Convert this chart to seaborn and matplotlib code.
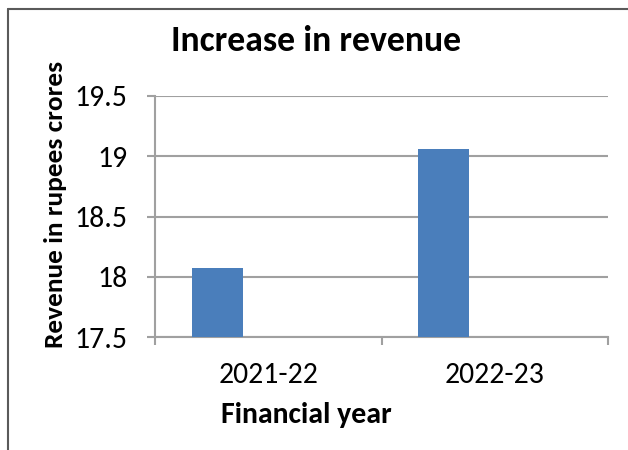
import matplotlib
matplotlib.use("Agg")
import matplotlib.pyplot as plt
from matplotlib import font_manager
from matplotlib.lines import Line2D
import seaborn as sns
import pandas as pd
import numpy as np

# ---- data ----
years = ["2021-22", "2022-23"]
revenue = [18.07, 19.06]
series_order = ["Revenue", "Series2", "Series3"]  # Excel-style empty extra series slots
y_ticks = [17.5, 18, 18.5, 19, 19.5]
y_tick_labels = ["17.5", "18", "18.5", "19", "19.5"]
title = "Increase in revenue"
xlabel = "Financial year"
ylabel = "Revenue in rupees crores"

df = pd.DataFrame({"year": years, "series": ["Revenue"] * len(years), "value": revenue})

sns.set_theme(style="white")
names = {f.name for f in font_manager.fontManager.ttflist}
fam = "Carlito" if "Carlito" in names else ("Lato" if "Lato" in names else "DejaVu Sans")
plt.rcParams["font.family"] = [fam, "DejaVu Sans"]

W, H = 628, 450
fig = plt.figure(figsize=(W / 100, H / 100), dpi=100)
fig.patch.set_facecolor("white")

ax_l, ax_r, ax_t, ax_b = 155, 608, 96, 337
ax = fig.add_axes([ax_l / W, 1 - ax_b / H, (ax_r - ax_l) / W, (ax_b - ax_t) / H])

grid_c = "#a0a0a0"
lw = 1.5
sns.barplot(data=df, x="year", y="value", hue="series", hue_order=series_order,
            order=years, palette=["#4a7ebb", "#c0504d", "#9bbb59"], width=0.675,
            dodge=True, legend=False, ax=ax, saturation=1, edgecolor="none", zorder=3)

ax.set_ylim(17.5, 19.5)
ax.set_xlim(-0.5, 1.5)
ax.set_yticks(y_ticks)
ax.set_yticklabels(y_tick_labels)
ax.set_xticks([0, 1])
ax.set_xticklabels(years)
ax.set_xticks([-0.5, 0.5, 1.5], minor=True)
ax.yaxis.grid(True, color=grid_c, linewidth=lw, zorder=0)
ax.set_axisbelow(True)
for s in ["top", "right"]:
    ax.spines[s].set_visible(False)
for s in ["left", "bottom"]:
    ax.spines[s].set_color(grid_c)
    ax.spines[s].set_linewidth(lw)
ax.tick_params(axis="y", which="major", length=5.8, width=lw, color=grid_c,
               direction="out", left=True, pad=14, labelcolor="black")
ax.tick_params(axis="x", which="major", length=0, pad=18, labelcolor="black")
ax.tick_params(axis="x", which="minor", length=5.8, width=lw, color=grid_c,
               direction="out", bottom=True)
ax.set_xlabel("")
ax.set_ylabel("")

# titles as figure text
t_title = fig.text(316.5 / W, 1 - 41 / H, title, ha="center", va="center",
                   fontweight="bold", fontsize=20, color="black")
t_x = fig.text(306 / W, 1 - 415 / H, xlabel, ha="center", va="center",
               fontweight="bold", fontsize=14, color="black")
t_y = fig.text(56 / W, 1 - 204 / H, ylabel, ha="center", va="center",
               rotation=90, fontweight="bold", fontsize=14, color="black")

fig.canvas.draw()
r = fig.canvas.get_renderer()

def fit(t, target, vertical=False):
    bb = t.get_window_extent(r)
    cur = bb.height if vertical else bb.width
    t.set_fontsize(t.get_fontsize() * target / cur)

fit(t_title, 290)
fit(t_x, 171)
fit(t_y, 288, vertical=True)
xl = ax.get_xticklabels()[0]
w0 = xl.get_window_extent(r).width
fs = xl.get_fontsize() * 99 / w0
ax.tick_params(axis="both", which="major", labelsize=fs)

# chart-area border (left and top edges visible)
bc = "#5a5a5a"
fig.add_artist(Line2D([7.5 / W, 7.5 / W], [0, 1 - 8.5 / H], color=bc, lw=1.5,
                      transform=fig.transFigure))
fig.add_artist(Line2D([7.5 / W, 1], [1 - 8.5 / H, 1 - 8.5 / H], color=bc, lw=1.5,
                      transform=fig.transFigure))

fig.savefig("out.png", dpi=100)
